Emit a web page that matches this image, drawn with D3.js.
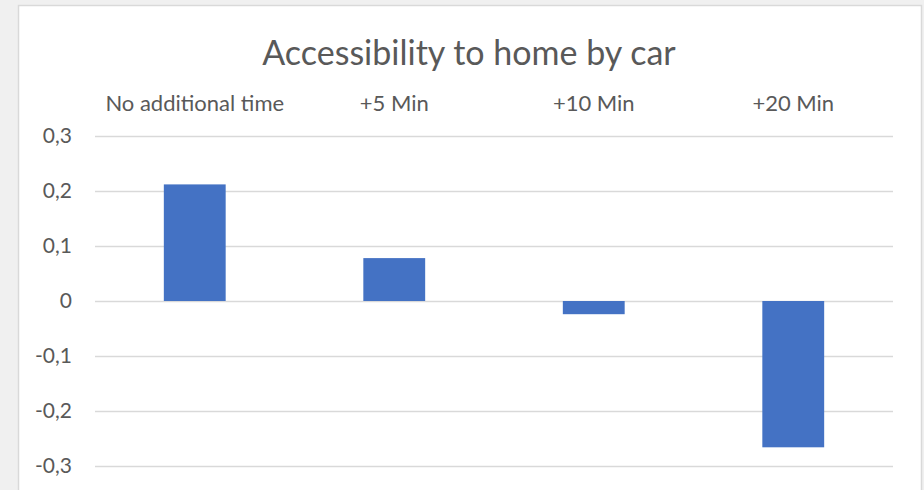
<!DOCTYPE html>
<html>
<head>
<meta charset="utf-8">
<script src="https://cdn.jsdelivr.net/npm/d3@7"></script>
<style>
  html, body { margin: 0; padding: 0; background: #f0f0f0; }
  svg { display: block; }
  text { font-family: Lato, "Liberation Sans", sans-serif; fill: #595959; }
</style>
</head>
<body>
<svg id="canvas" width="924" height="490"></svg>
<script>
// chart data
const categories = ["No additional time", "+5 Min", "+10 Min", "+20 Min"]
const values = [0.212, 0.078, -0.024, -0.266]
const yTicks = [-0.3, -0.2, -0.1, 0, 0.1, 0.2, 0.3]
const title = "Accessibility to home by car"

const svg = d3.select("#canvas")

// white chart area with thin gray border
svg.append("rect")
  .attr("x", 18.5).attr("y", 5.5)
  .attr("width", 903).attr("height", 500)
  .attr("fill", "#fff")
  .attr("stroke", "#d9d9d9")
  .attr("stroke-width", 1.5)

const plot = { left: 95, right: 893, top: 136, bottom: 466 }

const x = d3.scaleBand()
  .domain(categories)
  .range([plot.left, plot.right])
  .paddingInner(0.69)
  .paddingOuter(0.345)

const y = d3.scaleLinear()
  .domain([-0.3, 0.3])
  .range([plot.bottom, plot.top])

// number format with comma decimal
const locale = d3.formatLocale({ decimal: ",", thousands: ".", grouping: [3], currency: ["", ""], minus: "-" })
const fmt = d => d === 0 ? "0" : locale.format(".1f")(d)

// gridlines + tick labels via axis
const yAxis = d3.axisLeft(y)
  .tickValues(yTicks)
  .tickFormat(fmt)
  .tickSize(-(plot.right - plot.left))
  .tickPadding(23)

const gy = svg.append("g")
  .attr("transform", `translate(${plot.left},0)`)
  .call(yAxis)
gy.select(".domain").remove()
gy.selectAll(".tick line")
  .attr("stroke", "#d9d9d9")
  .attr("stroke-width", 1.3)
gy.selectAll(".tick text")
  .attr("font-size", 21)
  .attr("fill", "#595959")
  .style("font-family", "Lato, sans-serif")

// bars
svg.append("g")
  .selectAll("rect")
  .data(values)
  .enter()
  .append("rect")
  .attr("x", (d, i) => x(categories[i]))
  .attr("y", d => Math.min(y(d), y(0)))
  .attr("width", x.bandwidth())
  .attr("height", d => Math.abs(y(d) - y(0)))
  .attr("fill", "#4472c4")

// category labels above plot
svg.append("g")
  .selectAll("text")
  .data(categories)
  .enter()
  .append("text")
  .attr("x", d => x(d) + x.bandwidth() / 2)
  .attr("y", 111)
  .attr("text-anchor", "middle")
  .attr("font-size", 22)
  .text(d => d)

// title
svg.append("text")
  .attr("x", 469)
  .attr("y", 65)
  .attr("text-anchor", "middle")
  .attr("font-size", 34)
  .text(title)
</script>
</body>
</html>
